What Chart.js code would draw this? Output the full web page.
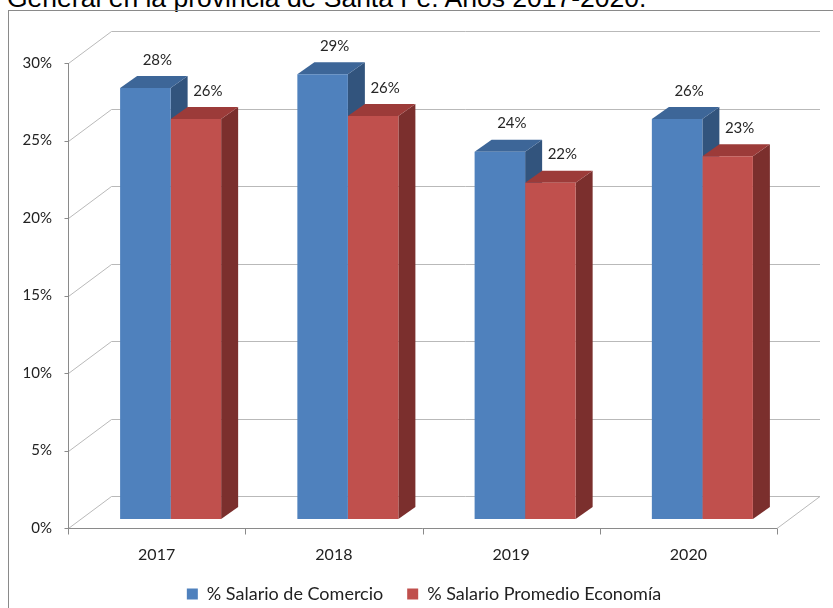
<!DOCTYPE html>
<html>
<head>
<meta charset="utf-8">
<script src="https://cdn.jsdelivr.net/npm/chart.js@4"></script>
<style>
  html, body { margin: 0; padding: 0; background: #fff; }
  body { width: 833px; height: 608px; position: relative; overflow: hidden; }
  #title { position: absolute; left: 7px; top: -15px; font: 26.5px/26px "Liberation Sans", Arial, sans-serif; color: #000; white-space: nowrap; }
  #frame { position: absolute; left: 8px; top: 10px; width: 840px; height: 620px; border-left: 1px solid #8a8a8a; border-top: 1px solid #8a8a8a; }
  canvas { position: absolute; left: 0; top: 0; }
</style>
</head>
<body>
<div id="title">General en la provincia de Santa Fe. Años 2017-2020.</div>
<div id="frame"></div>
<canvas id="chart" width="833" height="608"></canvas>
<script>
const categories = ["2017", "2018", "2019", "2020"];
const seriesNames = ["% Salario de Comercio", "% Salario Promedio Economía"];
const comercio = [27.8, 28.7, 23.7, 25.8];
const promedio = [25.8, 26.0, 21.7, 23.4];
const yTicks = [0, 5, 10, 15, 20, 25, 30];

// 3d look: depth of the walls, where the bars stand, how deep the bars are
const WALL = { dx: 43, dy: -32 };
const BAR_POS = { dx: 14, dy: -9 };
const BAR_DEPTH = { dx: 17, dy: -12 };
const faceColors = [
  { top: "#3d6698", side: "#32547d" },
  { top: "#9c3b39", side: "#7b2f2d" }
];

const box3d = {
  id: "box3d",
  beforeDatasetsDraw(chart) {
    const { ctx, chartArea: a, scales: { x, y } } = chart;
    const y0 = Math.round(y.getPixelForValue(0)) + 0.5;
    const left = Math.round(a.left) + 0.5;
    ctx.save();
    ctx.lineWidth = 1;

    // back wall and left wall
    ctx.strokeStyle = "#b9b9b9";
    yTicks.forEach(v => {
      const py = Math.round(y.getPixelForValue(v)) + 0.5;
      ctx.beginPath();
      ctx.moveTo(left, py);
      ctx.lineTo(left + WALL.dx, py + WALL.dy);
      ctx.lineTo(a.right + WALL.dx, py + WALL.dy);
      ctx.stroke();
    });
    ctx.beginPath();
    ctx.moveTo(a.right, y0);
    ctx.lineTo(a.right + WALL.dx, y0 + WALL.dy);
    ctx.stroke();

    // front axes
    ctx.strokeStyle = "#8a8a8a";
    ctx.beginPath();
    ctx.moveTo(left, y.getPixelForValue(30));
    ctx.lineTo(left, y0);
    ctx.lineTo(a.right, y0);
    yTicks.forEach(v => {
      const py = Math.round(y.getPixelForValue(v)) + 0.5;
      ctx.moveTo(left - 4, py);
      ctx.lineTo(left, py);
    });
    for (let i = 0; i <= categories.length; i++) {
      const px = Math.round(x.getPixelForValue(i - 0.5)) + 0.5;
      ctx.moveTo(px, y0);
      ctx.lineTo(px, y0 + 6);
    }
    ctx.stroke();

    // top and side faces of the bars, behind the front faces
    ctx.translate(BAR_POS.dx, BAR_POS.dy);
    chart.data.datasets.forEach((ds, i) => {
      const c = faceColors[i];
      chart.getDatasetMeta(i).data.forEach(bar => {
        const { x, y, base, width } = bar.getProps(["x", "y", "base", "width"], true);
        const l = x - width / 2, r = x + width / 2;
        ctx.fillStyle = c.side;
        ctx.beginPath();
        ctx.moveTo(r, y);
        ctx.lineTo(r + BAR_DEPTH.dx, y + BAR_DEPTH.dy);
        ctx.lineTo(r + BAR_DEPTH.dx, base + BAR_DEPTH.dy);
        ctx.lineTo(r, base);
        ctx.closePath();
        ctx.fill();
        ctx.fillStyle = c.top;
        ctx.beginPath();
        ctx.moveTo(l, y);
        ctx.lineTo(l + BAR_DEPTH.dx, y + BAR_DEPTH.dy);
        ctx.lineTo(r + BAR_DEPTH.dx, y + BAR_DEPTH.dy);
        ctx.lineTo(r, y);
        ctx.closePath();
        ctx.fill();
      });
    });
    ctx.restore();
  },
  beforeDatasetDraw(chart) {
    chart.ctx.save();
    chart.ctx.translate(BAR_POS.dx, BAR_POS.dy);
  },
  afterDatasetDraw(chart) {
    chart.ctx.restore();
  },
  afterDatasetsDraw(chart) {
    const ctx = chart.ctx;
    ctx.save();
    ctx.font = "15px Lato";
    ctx.fillStyle = "#262626";
    ctx.textAlign = "center";
    ctx.textBaseline = "middle";
    chart.data.datasets.forEach((ds, i) => {
      chart.getDatasetMeta(i).data.forEach((bar, j) => {
        const { x, y } = bar.getProps(["x", "y"], true);
        ctx.fillText(Math.round(ds.data[j]) + "%", x + BAR_POS.dx + 12, y + BAR_POS.dy - 28);
      });
    });
    ctx.restore();
  }
};

new Chart(document.getElementById("chart").getContext("2d"), {
  type: "bar",
  data: {
    labels: categories,
    datasets: [
      { label: seriesNames[0], data: comercio, backgroundColor: "#4f81bd", borderWidth: 0, clip: false },
      { label: seriesNames[1], data: promedio, backgroundColor: "#c0504d", borderWidth: 0, clip: false }
    ]
  },
  options: {
    responsive: false,
    animation: false,
    layout: { padding: { left: 15, right: 0, top: 63, bottom: -5 } },
    datasets: { bar: { barPercentage: 1, categoryPercentage: 0.57 } },
    scales: {
      x: {
        grid: { display: false, drawTicks: false },
        border: { display: false },
        ticks: { font: { family: "Lato", size: 16, lineHeight: 1 }, color: "#222", padding: 19 },
        afterFit(s) { s.height = 33; }
      },
      y: {
        min: 0,
        max: 30,
        grid: { display: false, drawTicks: false },
        border: { display: false },
        ticks: {
          stepSize: 5,
          font: { family: "Lato", size: 15 },
          color: "#222",
          padding: 16,
          callback: v => v + "%"
        },
        afterFit(s) { s.width = 53; }
      },
      yRight: {
        position: "right",
        grid: { display: false, drawTicks: false },
        border: { display: false },
        ticks: { display: false },
        afterFit(s) { s.width = 56; }
      }
    },
    plugins: {
      legend: {
        position: "bottom",
        labels: {
          boxWidth: 11,
          boxHeight: 11,
          padding: 24,
          color: "#222",
          font: { family: "Lato", size: 18 }
        }
      },
      tooltip: { enabled: false }
    }
  },
  plugins: [box3d]
});
</script>
</body>
</html>
